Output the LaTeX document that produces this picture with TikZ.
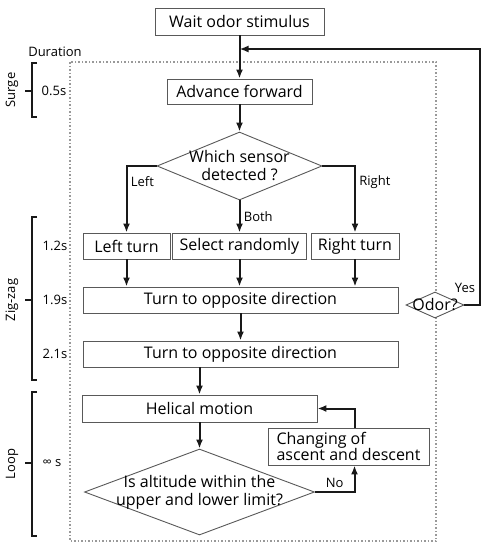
\documentclass[tikz,border=0pt]{standalone}
\usepackage{fontspec}
\setmainfont{Open Sans}
\usetikzlibrary{shapes.geometric,arrows.meta}

\begin{document}
\begin{tikzpicture}[x=1pt,y=-1pt,->,>={Latex[length=9pt,width=7pt]},
    line width=2pt,draw=black!90,
    box/.style={draw=black!65,line width=0.9pt,minimum height=26pt,inner sep=2pt,
      font=\fontsize{16}{16}\selectfont},
    decision/.style={diamond,draw=black!65,line width=0.9pt,fill=white,inner sep=-20pt,
      align=center,font=\fontsize{16}{18}\selectfont},
    side/.style={font=\fontsize{13}{15}\selectfont},
    bracket/.style={-,line width=1.5pt}]

    \useasboundingbox (0,0) rectangle (490,550);
    \draw[-,draw=black!40,line width=1.5pt,dotted] (70,62) rectangle (436,541);

    \node[box,minimum width=169pt,minimum height=27pt] (wait) at (239.5,21.5) {Wait odor stimulus};
    \node[box,minimum width=145pt,minimum height=25pt] (adv) [below of=wait,node distance=70pt] {Advance forward};
    \node[decision,aspect=2.43,minimum width=165pt,minimum height=68pt] (sensor) [below of=adv,node distance=74.5pt] {Which sensor\\detected ?};
    \node[box,minimum width=134pt] (sel) [below of=sensor,node distance=80pt] {Select randomly};
    \node[box,minimum width=87pt] (lturn) at (126.5,246) {Left turn};
    \node[box,minimum width=88pt] (rturn) at (355,246) {Right turn};
    \node[box,minimum width=315pt] (opp1) at (240.5,300) {Turn to opposite direction};
    \node[box,minimum width=315pt] (opp2) [below of=opp1,node distance=54pt] {Turn to opposite direction};
    \node[box,minimum width=235pt,minimum height=27pt] (helix) at (199.5,408.5) {Helical motion};
    \node[decision,aspect=2.67,minimum width=230pt,minimum height=86pt] (limit) [below of=helix,node distance=83.5pt] {Is altitude within the\\upper and lower limit?};
    \node[box,minimum width=161pt,minimum height=37pt,align=left] (change) at (348.5,446.5) {Changing of\\ascent and descent};
    \node[decision,aspect=2.2,minimum width=58pt,minimum height=26pt] (odor) at (435,305) {Odor?};
    \node[side] (yes) at (465,288) {Yes};

    \coordinate (rt) at (480,49);
    \coordinate (join) at (wait.south |- rt);

    % durations on the left
    \node[side] (dur) at (55,52) {Duration};
    \node[side,rotate=90] (surge) at (12,90) {Surge};
    \node[side,rotate=90] (zigzag) at (12,300) {Zig-zag};
    \node[side,rotate=90] (loop) at (12,464) {Loop};
    \node[side] (t05) at (54,91) {0.5s};
    \node[side] (t12) at (55,246) {1.2s};
    \node[side] (t19) at (55,300) {1.9s};
    \node[side] (t21) at (55,354) {2.1s};
    \node[side] (tinf) at (52,463) {∞ s};

    \draw[bracket] (37,63) -- (32,63) -- (32,117) -- (37,117) (32,91) -- (25,91);
    \draw[bracket] (37,217) -- (32,217) -- (32,380) -- (37,380) (32,300) -- (25,300);
    \draw[bracket] (37,392) -- (32,392) -- (32,536) -- (37,536) (32,463) -- (25,463);

    \draw (wait) -- (adv);
    \draw (odor.east) -| (rt) -- (join);
    \draw (adv) -- (sensor);
    \draw (sensor.west) -| node[side,pos=0.62,right] {Left} (lturn);
    \draw (sensor.south) -- node[side,right] {Both} (sel);
    \draw (sensor.east) -| node[side,pos=0.62,right] {Right} (rturn);
    \draw (lturn) -- (lturn |- opp1.north);
    \draw (sel.south) -- (sel.south |- opp1.north);
    \draw (rturn) -- (rturn |- opp1.north);
    \draw (opp1) -- (opp2);
    \draw (helix.north |- opp2.south) -- (helix);
    \draw (helix) -- (limit);
    \draw (limit.east) -| node[side,pos=0.25,above] {No} ([xshift=6pt]change.south);
    \draw ([xshift=6pt]change.north) |- (helix.east);
  \end{tikzpicture}
\end{document}
